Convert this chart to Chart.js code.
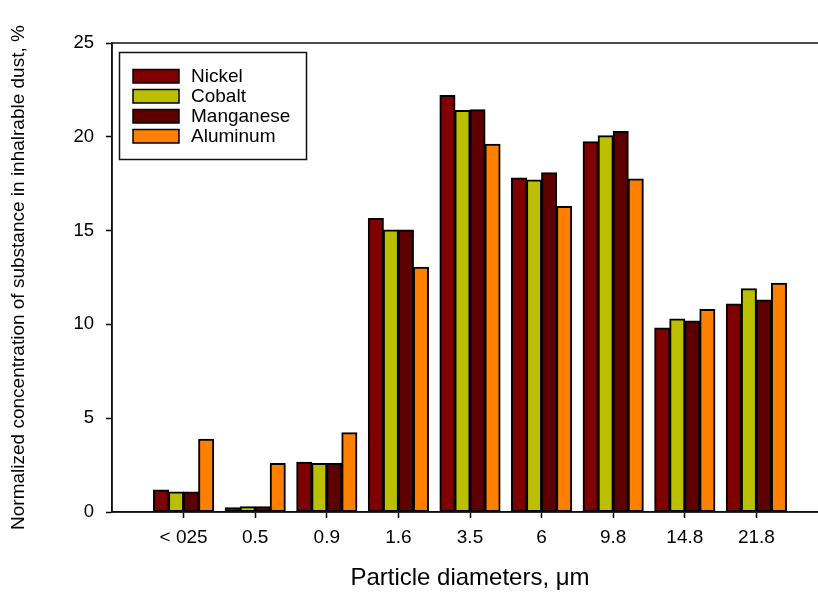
<!DOCTYPE html>
<html>
<head>
<meta charset="utf-8">
<script src="https://cdn.jsdelivr.net/npm/chart.js@4/dist/chart.umd.min.js"></script>
<style>
  html, body { margin: 0; padding: 0; overflow: hidden; background: #fff; }
  #wrap { width: 840px; height: 596px; }
</style>
</head>
<body>
<div id="wrap"><canvas id="dust" width="840" height="596"></canvas></div>
<script>
// particle size classes, um
const categories = ["< 025", "0.5", "0.9", "1.6", "3.5", "6", "9.8", "14.8", "21.8"];
// normalized concentration, %
const nickel    = [1.17, 0.23, 2.65, 15.65, 22.2, 17.8, 19.73, 9.81, 11.09];
const cobalt    = [1.07, 0.28, 2.58, 15.03, 21.4, 17.7, 20.05, 10.29, 11.9];
const manganese = [1.07, 0.28, 2.58, 15.03, 21.44, 18.09, 20.28, 10.18, 11.3];
const aluminum  = [3.88, 2.58, 4.22, 13.05, 19.6, 16.28, 17.75, 10.79, 12.2];
const yTicks = [0, 5, 10, 15, 20, 25];

const toPoints = arr => arr.map((v, i) => ({ x: i, y: v }));

// frame round the plot + legend box inside it
const framePlugin = {
  id: "frame",
  afterDraw(chart) {
    const { ctx, chartArea: a } = chart;
    ctx.save();
    ctx.strokeStyle = "#111";
    ctx.lineWidth = 1.5;
    ctx.strokeRect(a.left, a.top, a.right - a.left, a.bottom - a.top);

    // legend
    ctx.strokeRect(119.5, 52.5, 187, 107);
    ctx.font = "19px 'Liberation Sans', Arial, sans-serif";
    ctx.textBaseline = "middle";
    chart.data.datasets.forEach((ds, i) => {
      const y = 69.5 + i * 20;
      ctx.fillStyle = ds.backgroundColor;
      ctx.fillRect(133, y, 46, 13.5);
      ctx.strokeStyle = "#000";
      ctx.strokeRect(133, y, 46, 13.5);
      ctx.fillStyle = "#000";
      ctx.fillText(ds.label, 191, y + 7);
    });
    ctx.restore();
  }
};

const barStyle = { borderColor: "#000", borderWidth: 2, borderSkipped: false, inflateAmount: 0.5,
                   categoryPercentage: 0.84, barPercentage: 1.0 };

new Chart(document.getElementById("dust"), {
  type: "bar",
  data: {
    datasets: [
      { label: "Nickel",    data: toPoints(nickel),    backgroundColor: "#800000", ...barStyle },
      { label: "Cobalt",    data: toPoints(cobalt),    backgroundColor: "#BBBF00", ...barStyle },
      { label: "Manganese", data: toPoints(manganese), backgroundColor: "#5E0000", ...barStyle },
      { label: "Aluminum",  data: toPoints(aluminum),  backgroundColor: "#FF8000", ...barStyle }
    ]
  },
  options: {
    responsive: false,
    animation: false,
    layout: { padding: { left: 0, top: 43, right: 12, bottom: 0 } },
    plugins: { legend: { display: false }, tooltip: { enabled: false } },
    scales: {
      x: {
        type: "linear",
        min: -1,
        max: 9,
        offset: false,
        afterFit(scale) { scale.height = 84; },
        afterBuildTicks(scale) {
          scale.ticks = categories.map((c, i) => ({ value: i }));
        },
        grid: { offset: false, drawOnChartArea: false, tickLength: 6, tickColor: "#000", tickWidth: 1.5 },
        border: { display: true, color: "#111", width: 1.5 },
        ticks: {
          padding: 8,
          color: "#000",
          font: { family: "'Liberation Sans', Arial, sans-serif", size: 19 },
          callback: v => categories[v] ?? ""
        },
        title: {
          display: true,
          text: "Particle diameters, μm",
          color: "#000",
          font: { family: "'Liberation Sans', Arial, sans-serif", size: 24 },
          padding: { top: 0, bottom: 3 }
        }
      },
      y: {
        min: 0,
        max: 25,
        afterFit(scale) { scale.width = 112; },
        afterBuildTicks(scale) {
          scale.ticks = yTicks.map(v => ({ value: v }));
        },
        grid: { drawOnChartArea: false, tickLength: 6, tickColor: "#000", tickWidth: 1.5 },
        border: { display: true, color: "#111", width: 1.5 },
        ticks: {
          padding: 12,
          color: "#000",
          font: { family: "'Liberation Sans', Arial, sans-serif", size: 18.5 }
        },
        title: {
          display: true,
          text: "Normalized concentration of substance in inhalrable dust, %",
          color: "#000",
          font: { family: "'Liberation Sans', Arial, sans-serif", size: 19 },
          padding: { top: 7, bottom: 0 }
        }
      }
    }
  },
  plugins: [framePlugin]
});
</script>
</body>
</html>
